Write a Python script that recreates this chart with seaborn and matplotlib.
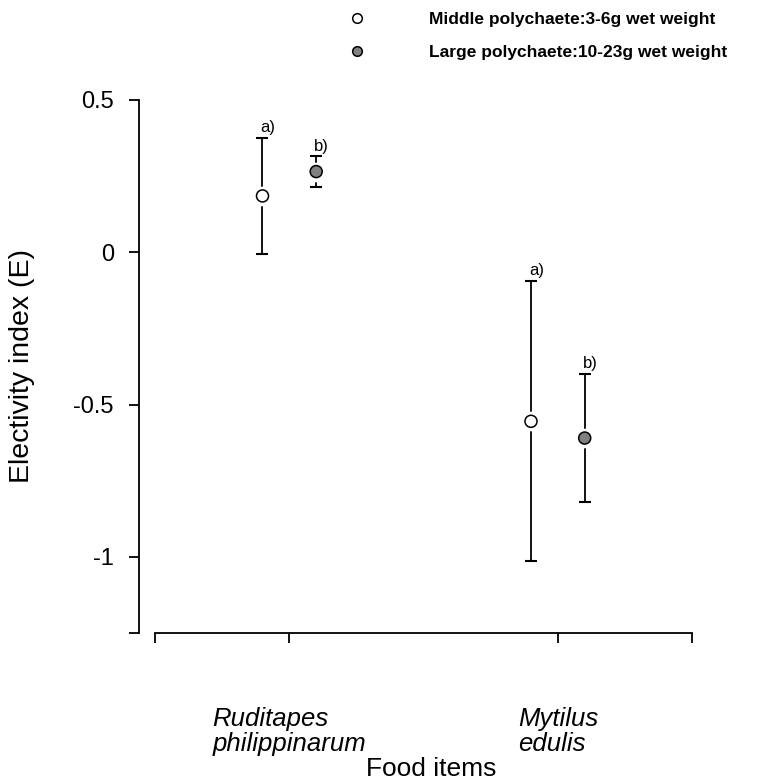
import numpy as np
import pandas as pd
import matplotlib
matplotlib.use("Agg")
import matplotlib.pyplot as plt
import seaborn as sns

# ---- data ----
foods = ["Ruditapes\nphilippinarum", "Mytilus\nedulis"]
middle_mean = [0.185, -0.555]
middle_err = [0.19, 0.46]
large_mean = [0.265, -0.61]
large_err = [0.05, 0.21]
groups = ["Middle polychaete:3-6g wet weight", "Large polychaete:10-23g wet weight"]
letters = ["a)", "b)"]
y_ticks = [-1.25, -1, -0.5, 0, 0.5]
y_ticklabels = ["", "-1", "-0.5", "0", "0.5"]

sns.set_style("ticks")
plt.rcParams['font.family'] = ['Liberation Sans', 'DejaVu Sans']
plt.rcParams['axes.unicode_minus'] = False
plt.rcParams['text.color'] = 'black'
plt.rcParams['xtick.color'] = 'black'
plt.rcParams['ytick.color'] = 'black'
plt.rcParams['axes.labelcolor'] = 'black'
plt.rcParams['axes.edgecolor'] = 'black'

dodge = 0.1
rows = []
for i, f in enumerate(foods):
    rows.append({"food": f, "pos": i - dodge, "E": middle_mean[i], "err": middle_err[i], "group": groups[0]})
    rows.append({"food": f, "pos": i + dodge, "E": large_mean[i], "err": large_err[i], "group": groups[1]})
df = pd.DataFrame(rows)

fig = plt.figure(figsize=(7.62, 7.8), dpi=100)
ax = fig.add_axes([0.1824, 0.1885, 0.747, 0.6833])

# error bars first, then white halo so the line breaks around the marker
ax.errorbar(df["pos"], df["E"], yerr=df["err"], fmt="none", ecolor="black",
            elinewidth=1.3, capsize=4.5, capthick=1.5, zorder=1)
ax.scatter(df["pos"], df["E"], s=200, color="white", zorder=2, linewidths=0)

sns.scatterplot(data=df, x="pos", y="E", hue="group", style="group",
                palette={groups[0]: "white", groups[1]: "#808080"},
                markers={groups[0]: "o", groups[1]: "o"},
                s=75, edgecolor="black", linewidth=1.1, ax=ax, zorder=3)

# a) / b) letters above the upper caps
for _, r in df.iterrows():
    lab = letters[0] if r["group"] == groups[0] else letters[1]
    ax.annotate(lab, (r["pos"], r["E"] + r["err"]), xytext=(4, 2),
                textcoords="offset points", ha="center", va="bottom", fontsize=12)

ax.set_xlim(-0.56, 1.56)
ax.set_ylim(-1.25, 0.5)
ax.set_yticks(y_ticks)
ax.set_yticklabels(y_ticklabels)
ax.set_xticks(range(len(foods)))
ax.set_xticklabels(foods, fontstyle="italic", fontsize=18.5, multialignment="left",
                   linespacing=1.05)
ax.tick_params(axis="y", labelsize=17, length=7, width=1.3, direction="out", pad=11)
ax.tick_params(axis="x", length=7, width=1.3, direction="out", pad=46)

sns.despine(ax=ax)
ax.spines["bottom"].set_bounds(-0.5, 1.5)
for s in ["left", "bottom"]:
    ax.spines[s].set_linewidth(1.3)

# end ticks on the detached x axis
ax.set_xticks([-0.5, 1.5], minor=True)
ax.tick_params(axis="x", which="minor", length=7, width=1.3, direction="out")

ax.set_ylabel("Electivity index (E)", fontsize=20.5)
ax.yaxis.set_label_coords(-0.183, 0.5)
ax.set_xlabel("Food items", fontsize=19)
ax.xaxis.set_label_coords(0.513, -0.255)
ax.xaxis.label.set_va("center")

ax.legend(loc="upper left", bbox_to_anchor=(341.7 / 762, 1 - 12 / 780),
          bbox_transform=fig.transFigure, frameon=False,
          prop={"size": 12.5, "weight": "bold"},
          handlelength=1.8, handletextpad=3.2, labelspacing=1.0,
          borderpad=0, borderaxespad=0, markerscale=0.8)

plt.savefig("out.png", dpi=100)
